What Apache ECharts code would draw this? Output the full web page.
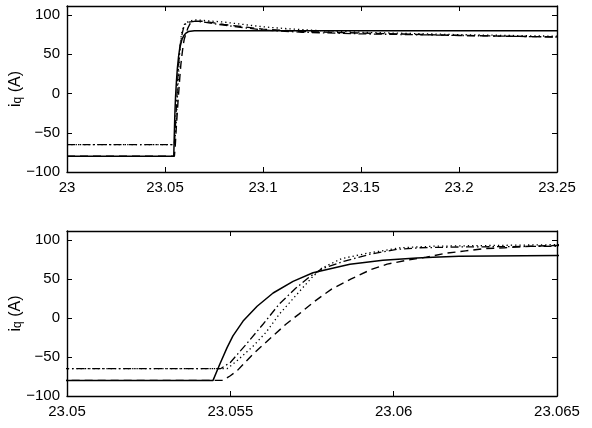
<!DOCTYPE html>
<html><head><meta charset="utf-8">
<script src="https://cdn.jsdelivr.net/npm/echarts@6/dist/echarts.min.js"></script>
<style>html,body{margin:0;padding:0;background:#fff}#c{width:592px;height:428px}</style>
</head><body><div id="c"></div>
<script>
// time (s) and i_q (A) for each trace
const solidT = [23.0, 23.05447, 23.05468, 23.0549, 23.05508, 23.05539, 23.05582, 23.05631, 23.05692, 23.05753, 23.05866, 23.05967, 23.06071, 23.0612, 23.062, 23.065, 23.1, 23.15, 23.2, 23.25];
const solidV = [-80, -80, -59, -38, -23, -4, 15, 32, 47, 58, 69, 74, 77, 78, 79, 80, 80, 80, 80, 80];

const dashT = [23.0, 23.05478, 23.0550, 23.0552, 23.0557, 23.0562, 23.0567, 23.0571, 23.0576, 23.0581, 23.0587, 23.0593, 23.0598, 23.0604, 23.0610, 23.0616, 23.0622, 23.0628, 23.0634, 23.0642, 23.065, 23.07, 23.08, 23.09, 23.1, 23.12, 23.15, 23.2, 23.25];
const dashV = [-80, -80, -74, -68, -46, -27, -8, 5, 22, 37, 50, 62, 69, 74, 78, 83, 86, 89, 90, 92, 93, 92, 88, 85, 82, 79, 77, 74, 72];

const dashDotT = [23.0, 23.0547, 23.0550, 23.0555, 23.0560, 23.0565, 23.0570, 23.0574, 23.0578, 23.0585, 23.0593, 23.0601, 23.0608, 23.0620, 23.065, 23.07, 23.08, 23.09, 23.1, 23.12, 23.15, 23.2, 23.25];
const dashDotV = [-65, -65, -57, -33, -8, 18, 38, 52, 63, 73, 82, 88, 90, 91, 92, 91, 87, 84, 81, 78, 76, 74, 72];

const dotT = [23.0, 23.0549, 23.0552, 23.0557, 23.0561, 23.0565, 23.0568, 23.0572, 23.0575, 23.0578, 23.0584, 23.0592, 23.0602, 23.0612, 23.065, 23.07, 23.08, 23.09, 23.1, 23.11, 23.13, 23.15, 23.2, 23.25];
const dotV = [-65, -65, -55, -36, -18, 5, 19, 38, 52, 64, 76, 83, 90, 92, 94, 93, 91, 88, 85, 83, 80, 78, 75, 73];

const yTicks = [-100, -50, 0, 50, 100];
const topXTicks = [23, 23.05, 23.1, 23.15, 23.2, 23.25];
const botXTicks = [23.05, 23.055, 23.06, 23.065];
const yLabel = 'i|q|(A)';

const chart = echarts.init(document.getElementById('c'), null, {renderer: 'canvas'});
const FONT = 'Liberation Sans, Arial, Helvetica, sans-serif';
const pairs = (t, v) => t.map((x, i) => [x, v[i]]);
const fmtX = v => String(+v.toFixed(4));
const fmtY = v => (v < 0 ? '\u2212' : '') + Math.abs(v);

const grids = [
  {left: 67, top: 6, width: 490, height: 166},
  {left: 67, top: 231, width: 490, height: 165}
];
const xRanges = [[topXTicks[0], topXTicks[topXTicks.length - 1], 0.05], [botXTicks[0], botXTicks[botXTicks.length - 1], 0.005]];

const xAxis = [], yAxis = [];
grids.forEach((g, gi) => {
  const [mn, mx, iv] = xRanges[gi];
  const base = {gridIndex: gi, type: 'value', min: mn, max: mx, interval: iv, splitLine: {show: false},
    axisLine: {show: true, onZero: false, lineStyle: {color: '#000', width: 1.4}},
    axisTick: {show: true, inside: true, length: 5, lineStyle: {color: '#000', width: 1}}};
  xAxis.push(Object.assign({}, base, {position: 'bottom',
    axisLabel: {show: true, formatter: fmtX, color: '#000', fontFamily: FONT, fontSize: 15, margin: 8}}));
  xAxis.push(Object.assign({}, base, {position: 'top', axisLabel: {show: false}}));
  const ybase = {gridIndex: gi, type: 'value', min: yTicks[0], max: 111.5, interval: 50, splitLine: {show: false},
    axisLine: {show: true, onZero: false, lineStyle: {color: '#000', width: 1.4}},
    axisTick: {show: true, inside: true, length: 5, lineStyle: {color: '#000', width: 1}}};
  yAxis.push(Object.assign({}, ybase, {position: 'left',
    axisLabel: {show: true, formatter: fmtY, showMaxLabel: false, color: '#000', fontFamily: FONT, fontSize: 15, margin: 7}}));
  yAxis.push(Object.assign({}, ybase, {position: 'right', axisLabel: {show: false}}));
});

const styles = [
  {t: solidT, v: solidV, type: 'solid', w: 1.5},
  {t: dashT, v: dashV, type: [8, 5], w: 1.4},
  {t: dashDotT, v: dashDotV, type: [8, 3, 1.5, 3], w: 1.3},
  {t: dotT, v: dotV, type: [1.3, 3], w: 1.3}
];
const series = [];
grids.forEach((g, gi) => {
  styles.forEach(s => {
    series.push({type: 'line', xAxisIndex: gi * 2, yAxisIndex: gi * 2, data: pairs(s.t, s.v),
      showSymbol: false, symbol: 'none', clip: true, silent: true,
      lineStyle: {color: '#000', width: s.w, type: s.type}});
  });
});

const parts = yLabel.split('|');
const labelGraphic = grids.map(g => ({
  type: 'text', x: 14, y: g.top + g.height / 2, rotation: Math.PI / 2,
  style: {
    text: '{a|' + parts[0] + '}{s|' + parts[1] + '}{a| ' + parts[2] + '}',
    align: 'center', verticalAlign: 'middle',
    rich: {
      a: {fontFamily: FONT, fontSize: 16, fill: '#000', verticalAlign: 'bottom', lineHeight: 20},
      s: {fontFamily: FONT, fontSize: 12, fill: '#000', verticalAlign: 'bottom', lineHeight: 6}
    }
  }
}));

chart.setOption({
  animation: false,
  backgroundColor: '#fff',
  grid: grids,
  xAxis, yAxis, series,
  graphic: labelGraphic
});
</script></body></html>
